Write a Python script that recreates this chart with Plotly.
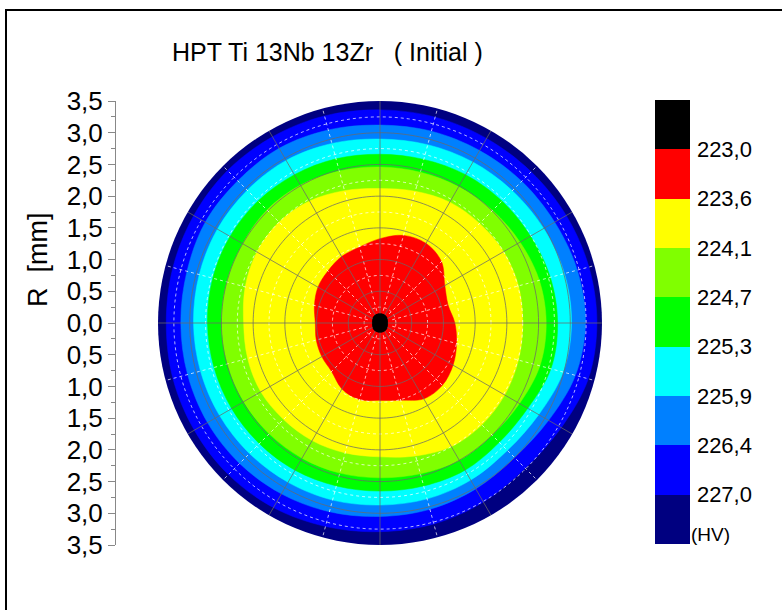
import plotly.graph_objects as go

W, H = 782, 610

# ---------------- data ----------------
angles = list(range(0, 360, 15))  # degrees, counter-clockwise from +x

levels = [223.0, 223.6, 224.1, 224.7, 225.3, 225.9, 226.4, 227.0]
level_labels = ["223,0", "223,6", "224,1", "224,7", "225,3", "225,9", "226,4", "227,0"]

# radius (mm) of each iso-hardness boundary at the angles above
r_223_0 = [0.12, 0.12, 0.13, 0.14, 0.145, 0.145, 0.145, 0.145, 0.145, 0.14, 0.13, 0.12,
           0.12, 0.12, 0.13, 0.14, 0.145, 0.145, 0.145, 0.145, 0.145, 0.14, 0.13, 0.12]
r_223_6 = [1.18, 1.11, 1.18, 1.37, 1.45, 1.43, 1.33, 1.24, 1.21, 1.16, 1.13, 1.07,
           1.02, 1.04, 1.06, 1.08, 1.20, 1.25, 1.22, 1.26, 1.38, 1.39, 1.33, 1.25]
r_224_1 = [2.25, 2.26, 2.25, 2.22, 2.20, 2.15, 2.12, 2.16, 2.22, 2.25, 2.24, 2.20,
           2.15, 2.16, 2.17, 2.15, 2.14, 2.12, 2.11, 2.17, 2.25, 2.27, 2.27, 2.26]
r_224_7 = [2.62, 2.60, 2.55, 2.51, 2.48, 2.46, 2.46, 2.48, 2.51, 2.52, 2.50, 2.50,
           2.50, 2.49, 2.48, 2.47, 2.46, 2.45, 2.44, 2.46, 2.50, 2.50, 2.54, 2.61]
r_225_3 = [2.80, 2.78, 2.74, 2.72, 2.70, 2.67, 2.66, 2.68, 2.70, 2.72, 2.73, 2.73,
           2.72, 2.71, 2.70, 2.69, 2.68, 2.66, 2.65, 2.66, 2.68, 2.66, 2.69, 2.79]
r_225_9 = [3.02, 3.01, 2.98, 2.95, 2.93, 2.91, 2.90, 2.93, 2.96, 2.96, 2.96, 2.95,
           2.94, 2.93, 2.92, 2.91, 2.90, 2.89, 2.87, 2.87, 2.86, 2.84, 2.89, 2.99]
r_226_4 = [3.24, 3.22, 3.18, 3.16, 3.14, 3.13, 3.12, 3.15, 3.18, 3.17, 3.18, 3.15,
           3.14, 3.14, 3.14, 3.13, 3.11, 3.08, 3.05, 3.04, 3.02, 3.00, 3.07, 3.19]
r_227_0 = [3.42, 3.41, 3.39, 3.37, 3.36, 3.36, 3.36, 3.38, 3.39, 3.40, 3.39, 3.38,
           3.37, 3.38, 3.38, 3.38, 3.36, 3.32, 3.29, 3.28, 3.26, 3.24, 3.30, 3.40]

boundaries = [r_223_0, r_223_6, r_224_1, r_224_7, r_225_3, r_225_9, r_226_4, r_227_0]

# colour inside boundary i (band below level i); last colour = above the highest level
band_colors = ["#000000", "#FF0000", "#FFFF00", "#80FF00", "#00FF00",
               "#00FFFF", "#0080FF", "#0000FF", "#000080"]

r_max = 3.5
y_ticks = [-3.5, -3.0, -2.5, -2.0, -1.5, -1.0, -0.5, 0.0, 0.5, 1.0, 1.5, 2.0, 2.5, 3.0, 3.5]
y_tick_labels = ["3,5", "3,0", "2,5", "2,0", "1,5", "1,0", "0,5", "0,0",
                 "0,5", "1,0", "1,5", "2,0", "2,5", "3,0", "3,5"]
y_minor = [-3.25, -2.75, -2.25, -1.75, -1.25, -0.75, -0.25, 0.25, 0.75, 1.25, 1.75, 2.25, 2.75, 3.25]

FONT = "Liberation Sans, Arial, Helvetica, sans-serif"


def px_x(v):
    return v / W


def px_y(v):
    return 1 - v / H


fig = go.Figure()

# filled iso-bands, outermost first
for i in reversed(range(len(boundaries))):
    b = boundaries[i]
    fig.add_trace(go.Scatterpolar(
        r=b + [b[0]], theta=angles + [angles[0]],
        mode="lines", fill="toself", fillcolor=band_colors[i],
        line=dict(color=band_colors[i], width=0.5, shape="spline", smoothing=1),
        hoverinfo="skip", showlegend=False))


# grid drawn on top of the bands
def circles(radii, step=2):
    rr, tt = [], []
    for rad in radii:
        for a in range(0, 361, step):
            rr.append(rad)
            tt.append(a)
        rr.append(None)
        tt.append(None)
    return rr, tt


def spokes(start, step, r0):
    rr, tt = [], []
    a = start
    while a < 360:
        rr += [r0, r_max, None]
        tt += [a, a, None]
        a += step
    return rr, tt


major_r = [0.5, 1.0, 1.5, 2.0, 2.5, 3.0]
minor_r = [0.25, 0.75, 1.25, 1.75, 2.25, 2.75, 3.25]
minor_style = dict(color="rgba(255,255,255,0.7)", width=1, dash="3px,3px")
major_style = dict(color="rgba(105,105,105,0.75)", width=1)

rr, tt = circles(minor_r)
fig.add_trace(go.Scatterpolar(r=rr, theta=tt, mode="lines", line=minor_style,
                              hoverinfo="skip", showlegend=False))
rr, tt = spokes(15, 30, 0.2)
fig.add_trace(go.Scatterpolar(r=rr, theta=tt, mode="lines", line=minor_style,
                              hoverinfo="skip", showlegend=False))
rr, tt = circles(major_r)
fig.add_trace(go.Scatterpolar(r=rr, theta=tt, mode="lines", line=major_style,
                              hoverinfo="skip", showlegend=False))
rr, tt = spokes(0, 30, 0.0)
fig.add_trace(go.Scatterpolar(r=rr, theta=tt, mode="lines", line=major_style,
                              hoverinfo="skip", showlegend=False))

# black centre drawn again on top of the grid
b = boundaries[0]
fig.add_trace(go.Scatterpolar(
    r=b + [b[0]], theta=angles + [angles[0]], mode="lines", fill="toself",
    fillcolor=band_colors[0], line=dict(color=band_colors[0], width=0.5, shape="spline"),
    hoverinfo="skip", showlegend=False))

# cartesian helper trace for the left R axis
fig.add_trace(go.Scatter(x=[0.5], y=[100], mode="markers", marker=dict(opacity=0),
                         hoverinfo="skip", showlegend=False, xaxis="x", yaxis="y"))

# colour bar (black at the top = lowest hardness)
n = len(band_colors)
colors_bottom_up = band_colors[::-1]
cscale = []
for k, c in enumerate(colors_bottom_up):
    cscale.append([k / n, c])
    cscale.append([(k + 1) / n, c])
tick_pos = [n - 1 - i for i in range(len(levels))]

fig.add_trace(go.Scatter(
    x=[0.5], y=[100], mode="markers", xaxis="x", yaxis="y",
    marker=dict(color=[0], cmin=0, cmax=n, colorscale=cscale, showscale=True, size=1,
                colorbar=dict(x=px_x(655), xanchor="left", xpad=0,
                              y=px_y(100), yanchor="top", ypad=0,
                              len=444, lenmode="pixels",
                              thickness=35, thicknessmode="pixels",
                              outlinewidth=0, borderwidth=0,
                              tickmode="array", tickvals=tick_pos, ticktext=level_labels,
                              ticks="outside", ticklen=3, tickcolor="rgba(0,0,0,0)",
                              tickfont=dict(family=FONT, size=22, color="black"))),
    hoverinfo="skip", showlegend=False))

fig.update_layout(
    width=W, height=H,
    margin=dict(l=0, r=0, t=0, b=0, autoexpand=False),
    paper_bgcolor="white", plot_bgcolor="rgba(0,0,0,0)",
    font=dict(family=FONT, color="black"),
    showlegend=False,
    polar=dict(
        domain=dict(x=[px_x(158), px_x(602)], y=[px_y(545), px_y(101)]),
        bgcolor=band_colors[-1],
        radialaxis=dict(range=[0, r_max], showticklabels=False, ticks="", showline=False,
                        showgrid=False),
        angularaxis=dict(showticklabels=False, ticks="", showline=False, showgrid=False,
                         direction="counterclockwise", rotation=0),
    ),
    xaxis=dict(visible=False, range=[0, 1], domain=[px_x(158), px_x(602)], fixedrange=True),
    yaxis=dict(domain=[px_y(545), px_y(101)], range=[-r_max, r_max], anchor="free",
               position=px_x(115), side="left",
               tickmode="array", tickvals=y_ticks, ticktext=y_tick_labels,
               ticks="outside", ticklen=7, tickcolor="#888888", tickwidth=1,
               showline=True, linecolor="#888888", linewidth=1,
               showgrid=False, zeroline=False,
               tickfont=dict(family=FONT, size=26, color="black"),
               minor=dict(tickvals=y_minor, ticks="outside", ticklen=4, tickcolor="#888888"),
               fixedrange=True),
    shapes=[dict(type="rect", xref="paper", yref="paper",
                 x0=px_x(6), x1=1.05, y0=-0.05, y1=px_y(10),
                 line=dict(color="black", width=2), fillcolor="rgba(0,0,0,0)")],
    annotations=[
        dict(text="HPT Ti 13Nb 13Zr\u00a0\u00a0\u00a0( Initial )", xref="paper", yref="paper",
             x=px_x(170), y=px_y(52), xanchor="left", yanchor="middle", showarrow=False,
             font=dict(family=FONT, size=25, color="black")),
        dict(text="R\u00a0\u00a0[mm]", xref="paper", yref="paper", textangle=-90,
             x=px_x(38), y=px_y(260), xanchor="center", yanchor="middle", showarrow=False,
             font=dict(family=FONT, size=27, color="black")),
        dict(text="(HV)", xref="paper", yref="paper",
             x=px_x(689), y=px_y(534), xanchor="left", yanchor="middle", showarrow=False,
             font=dict(family=FONT, size=19, color="black")),
    ],
)

fig.write_html("out.html")
